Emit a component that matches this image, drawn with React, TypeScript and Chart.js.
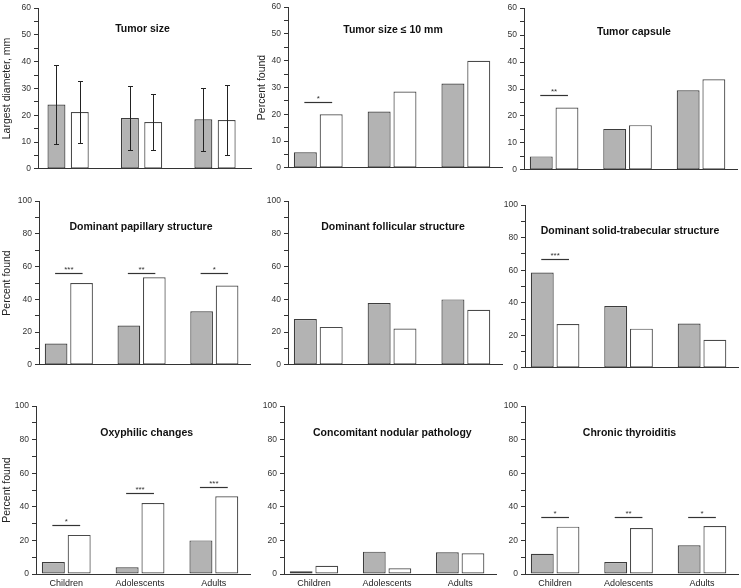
import React, { useEffect, useRef } from "react";
import { Chart, registerables } from "chart.js";

Chart.register(...registerables);

const FONT = "'Liberation Sans', Arial, Helvetica, sans-serif";
Chart.defaults.font.family = FONT;

// ---------- data ----------
const categories = ["Children", "Adolescents", "Adults"];

const ticks60 = [0, 5, 10, 15, 20, 25, 30, 35, 40, 45, 50, 55, 60];
const labels60 = [0, 10, 20, 30, 40, 50, 60];
const ticks100 = [0, 10, 20, 30, 40, 50, 60, 70, 80, 90, 100];
const labels100 = [0, 20, 40, 60, 80, 100];

const tumorSizeGray = [24, 19, 18.5];
const tumorSizeWhite = [21.2, 17.5, 18.2];
const tumorSizeGraySD = [14.7, 12, 11.8];
const tumorSizeWhiteSD = [11.7, 10.5, 13];

const smallTumorGray = [5.8, 21, 31.5];
const smallTumorWhite = [20, 28.5, 40];
const smallTumorSig = [{ index: 0, value: 24.7, label: "*" }];

const capsuleGray = [5, 15.2, 29.5];
const capsuleWhite = [23.1, 16.6, 33.6];
const capsuleSig = [{ index: 0, value: 27.8, label: "**" }];

const papillaryGray = [13, 24, 32.7];
const papillaryWhite = [50, 53.5, 48.5];
const papillarySig = [
  { index: 0, value: 56.4, label: "***" },
  { index: 1, value: 56.4, label: "**" },
  { index: 2, value: 56.4, label: "*" },
];

const follicularGray = [28, 37.8, 40];
const follicularWhite = [23.2, 22.2, 33.7];

const solidGray = [58.6, 38, 27.3];
const solidWhite = [26.9, 24.1, 17.3];
const solidSig = [{ index: 0, value: 66.9, label: "***" }];

const oxyphilicGray = [7.1, 4, 20];
const oxyphilicWhite = [23.3, 42.3, 46.3];
const oxyphilicSig = [
  { index: 0, value: 29.3, label: "*" },
  { index: 1, value: 48.1, label: "***" },
  { index: 2, value: 52.1, label: "***" },
];

const nodularGray = [1.6, 13.3, 12.9];
const nodularWhite = [4.9, 3.4, 12.3];

const thyroiditisGray = [12.1, 7.1, 17.1];
const thyroiditisWhite = [28.2, 27.4, 28.6];
const thyroiditisSig = [
  { index: 0, value: 33.9, label: "*" },
  { index: 1, value: 33.9, label: "**" },
  { index: 2, value: 33.9, label: "*" },
];

type Sig = { index: number; value: number; label: string };
type PanelDef = {
  title: string;
  yTitle?: string;
  yMax: number;
  ticks: number[];
  labels: number[];
  gray: number[];
  white: number[];
  graySD?: number[];
  whiteSD?: number[];
  sigs: Sig[];
};

const panels: PanelDef[] = [
  { title: "Tumor size", yTitle: "Largest diameter, mm", yMax: 60, ticks: ticks60, labels: labels60, gray: tumorSizeGray, white: tumorSizeWhite, graySD: tumorSizeGraySD, whiteSD: tumorSizeWhiteSD, sigs: [] },
  { title: "Tumor size \u2264 10 mm", yTitle: "Percent found", yMax: 60, ticks: ticks60, labels: labels60, gray: smallTumorGray, white: smallTumorWhite, sigs: smallTumorSig },
  { title: "Tumor capsule", yMax: 60, ticks: ticks60, labels: labels60, gray: capsuleGray, white: capsuleWhite, sigs: capsuleSig },
  { title: "Dominant papillary structure", yTitle: "Percent found", yMax: 100, ticks: ticks100, labels: labels100, gray: papillaryGray, white: papillaryWhite, sigs: papillarySig },
  { title: "Dominant follicular structure", yMax: 100, ticks: ticks100, labels: labels100, gray: follicularGray, white: follicularWhite, sigs: [] },
  { title: "Dominant solid-trabecular structure", yMax: 100, ticks: ticks100, labels: labels100, gray: solidGray, white: solidWhite, sigs: solidSig },
  { title: "Oxyphilic changes", yTitle: "Percent found", yMax: 100, ticks: ticks100, labels: labels100, gray: oxyphilicGray, white: oxyphilicWhite, sigs: oxyphilicSig },
  { title: "Concomitant nodular pathology", yMax: 100, ticks: ticks100, labels: labels100, gray: nodularGray, white: nodularWhite, sigs: [] },
  { title: "Chronic thyroiditis", yMax: 100, ticks: ticks100, labels: labels100, gray: thyroiditisGray, white: thyroiditisWhite, sigs: thyroiditisSig },
];

// ---------- layout ----------
const PAGE_W = 741;
const PAGE_H = 588;
const Y_AXIS_W = 38;
const TOP_PAD = 8;
const RIGHT_PAD = 4;
const X_MIN = -0.41;
const X_MAX = 2.49;

type Layout = {
  axisX: number; top: number; bottom: number; right: number;
  titleDx: number; titleDy: number; yTitlePad: number;
  cat: number; bar: number; showLabels: boolean;
};

const layouts: Layout[] = [
  { axisX: 38, top: 8, bottom: 173, right: 251, titleDx: -2, titleDy: 21, yTitlePad: 1, cat: 0.635, bar: 0.77, showLabels: false },
  { axisX: 288, top: 7, bottom: 172, right: 502, titleDx: -2, titleDy: 23, yTitlePad: 5.7, cat: 0.7, bar: 0.89, showLabels: false },
  { axisX: 524, top: 7.5, bottom: 173, right: 737, titleDx: 3.5, titleDy: 24, yTitlePad: 0, cat: 0.7, bar: 0.89, showLabels: false },
  { axisX: 39, top: 201, bottom: 369, right: 250, titleDx: -3.5, titleDy: 25.7, yTitlePad: 0, cat: 0.7, bar: 0.89, showLabels: false },
  { axisX: 288, top: 201, bottom: 369, right: 502, titleDx: -2, titleDy: 26, yTitlePad: 0, cat: 0.7, bar: 0.89, showLabels: false },
  { axisX: 525, top: 205, bottom: 372, right: 738, titleDx: -1.5, titleDy: 25.7, yTitlePad: 0, cat: 0.7, bar: 0.89, showLabels: false },
  { axisX: 36, top: 406, bottom: 574, right: 250, titleDx: 3.7, titleDy: 26.6, yTitlePad: 2.7, cat: 0.7, bar: 0.89, showLabels: true },
  { axisX: 284, top: 406, bottom: 574, right: 496, titleDx: 2.3, titleDy: 26.6, yTitlePad: 0, cat: 0.7, bar: 0.89, showLabels: true },
  { axisX: 525, top: 406, bottom: 574, right: 738, titleDx: -2, titleDy: 26.6, yTitlePad: 0, cat: 0.7, bar: 0.89, showLabels: true },
];

const GRAY_FILL = "#b3b3b3";
const BAR_BORDER = "#3d3d3d";
const AXIS_COLOR = "#333333";

function Panel({ def, layout }: { def: PanelDef; layout: Layout }) {
  const ref = useRef<HTMLCanvasElement>(null);
  const canvasLeft = layout.axisX - Y_AXIS_W;
  const canvasTop = layout.top - TOP_PAD;
  const width = Math.round(layout.right - canvasLeft + RIGHT_PAD);
  const height = Math.round(layout.showLabels ? PAGE_H - canvasTop : layout.bottom - canvasTop + 4);
  const xAxisH = height - (layout.bottom - canvasTop);

  useEffect(() => {
    if (!ref.current) return;
    const annotate = {
      id: "annotate",
      afterDatasetsDraw(chart: any) {
        const { ctx, chartArea } = chart;
        const y = chart.scales.y;
        const m0 = chart.getDatasetMeta(0);
        const m1 = chart.getDatasetMeta(1);
        ctx.save();
        // error bars
        [def.graySD, def.whiteSD].forEach((sd, d) => {
          if (!sd) return;
          const vals = d === 0 ? def.gray : def.white;
          const meta = chart.getDatasetMeta(d);
          meta.data.forEach((bar: any, i: number) => {
            const t = Math.round(y.getPixelForValue(vals[i] + sd[i])) + 0.5;
            const b = Math.round(y.getPixelForValue(vals[i] - sd[i])) + 0.5;
            const x = Math.round(bar.x) + 0.5;
            ctx.strokeStyle = "#222";
            ctx.lineWidth = 1;
            ctx.beginPath();
            ctx.moveTo(x, t);
            ctx.lineTo(x, b);
            ctx.moveTo(x - 2.5, t);
            ctx.lineTo(x + 2.5, t);
            ctx.moveTo(x - 2.5, b);
            ctx.lineTo(x + 2.5, b);
            ctx.stroke();
          });
        });
        // significance marks
        def.sigs.forEach((s) => {
          const x0 = m0.data[s.index].x - 1;
          const x1 = m1.data[s.index].x + 1;
          const py = Math.round(y.getPixelForValue(s.value)) + 0.5;
          ctx.strokeStyle = "#333";
          ctx.lineWidth = 1.2;
          ctx.beginPath();
          ctx.moveTo(x0, py);
          ctx.lineTo(x1, py);
          ctx.stroke();
          ctx.fillStyle = "#333";
          ctx.font = `8px ${FONT}`;
          ctx.textAlign = "center";
          ctx.textBaseline = "middle";
          ctx.fillText(s.label, (x0 + x1) / 2, py - 4);
        });
        // panel title
        ctx.fillStyle = "#111";
        ctx.font = `bold 10.5px ${FONT}`;
        ctx.textAlign = "center";
        ctx.textBaseline = "middle";
        ctx.fillText(def.title, (chartArea.left + chartArea.right) / 2 + layout.titleDx, chartArea.top + layout.titleDy);
        ctx.restore();
      },
    };

    const labelStep = def.labels[1] - def.labels[0];
    const chart = new Chart(ref.current, {
      type: "bar",
      data: {
        datasets: [
          {
            data: categories.map((_, i) => ({ x: i, y: def.gray[i] })),
            backgroundColor: GRAY_FILL,
            borderColor: BAR_BORDER,
            borderWidth: 1.2,
            borderSkipped: false,
            categoryPercentage: layout.cat,
            barPercentage: layout.bar,
          },
          {
            data: categories.map((_, i) => ({ x: i, y: def.white[i] })),
            backgroundColor: "#ffffff",
            borderColor: "#4a4a4a",
            borderWidth: 1.2,
            borderSkipped: false,
            categoryPercentage: layout.cat,
            barPercentage: layout.bar,
          },
        ],
      } as any,
      options: {
        animation: false,
        responsive: false,
        events: [],
        layout: { padding: { left: 0, top: TOP_PAD, right: RIGHT_PAD, bottom: 0 } },
        plugins: { legend: { display: false }, tooltip: { enabled: false } },
        scales: {
          x: {
            type: "linear",
            offset: false,
            bounds: "data",
            min: X_MIN,
            max: X_MAX,
            afterDataLimits: (scale: any) => {
              scale.min = X_MIN;
              scale.max = X_MAX;
            },
            afterBuildTicks: (scale: any) => {
              scale.ticks = categories.map((_, i) => ({ value: i }));
              scale.min = X_MIN;
              scale.max = X_MAX;
            },
            afterFit: (scale: any) => {
              scale.height = xAxisH;
            },
            grid: { display: false, drawTicks: false, offset: false },
            border: { display: true, color: AXIS_COLOR, width: 1 },
            ticks: {
              display: layout.showLabels,
              padding: 4,
              maxRotation: 0,
              autoSkip: false,
              color: "#222",
              font: { size: 9, family: FONT },
              callback: (v: any) => categories[v] ?? "",
            },
          },
          y: {
            type: "linear",
            min: 0,
            max: def.yMax,
            afterBuildTicks: (scale: any) => {
              scale.ticks = def.ticks.map((v) => ({ value: v }));
            },
            afterFit: (scale: any) => {
              scale.width = Y_AXIS_W;
            },
            grid: {
              display: true,
              drawOnChartArea: false,
              drawTicks: true,
              tickLength: 4,
              tickColor: AXIS_COLOR,
              color: AXIS_COLOR,
            },
            border: { display: true, color: AXIS_COLOR, width: 1 },
            ticks: {
              padding: 3,
              color: "#333",
              font: { size: 8.5, family: FONT },
              autoSkip: false,
              callback: (v: any) => (v % labelStep === 0 ? String(v) : ""),
            },
            title: {
              display: !!def.yTitle,
              text: def.yTitle ?? "",
              color: "#222",
              font: { size: 10.5, family: FONT },
              padding: { top: layout.yTitlePad, bottom: 0 },
            },
          },
        },
      } as any,
      plugins: [annotate],
    });
    return () => chart.destroy();
  }, []);

  return (
    <div style={{ position: "absolute", left: canvasLeft, top: canvasTop, width, height }}>
      <canvas ref={ref} width={width} height={height} style={{ display: "block", width, height }} />
    </div>
  );
}

export default function App() {
  return (
    <div
      style={{
        position: "absolute",
        left: 0,
        top: 0,
        width: PAGE_W,
        height: PAGE_H,
        overflow: "hidden",
        background: "#ffffff",
      }}
    >
      {panels.map((p, i) => (
        <Panel key={i} def={p} layout={layouts[i]} />
      ))}
    </div>
  );
}
